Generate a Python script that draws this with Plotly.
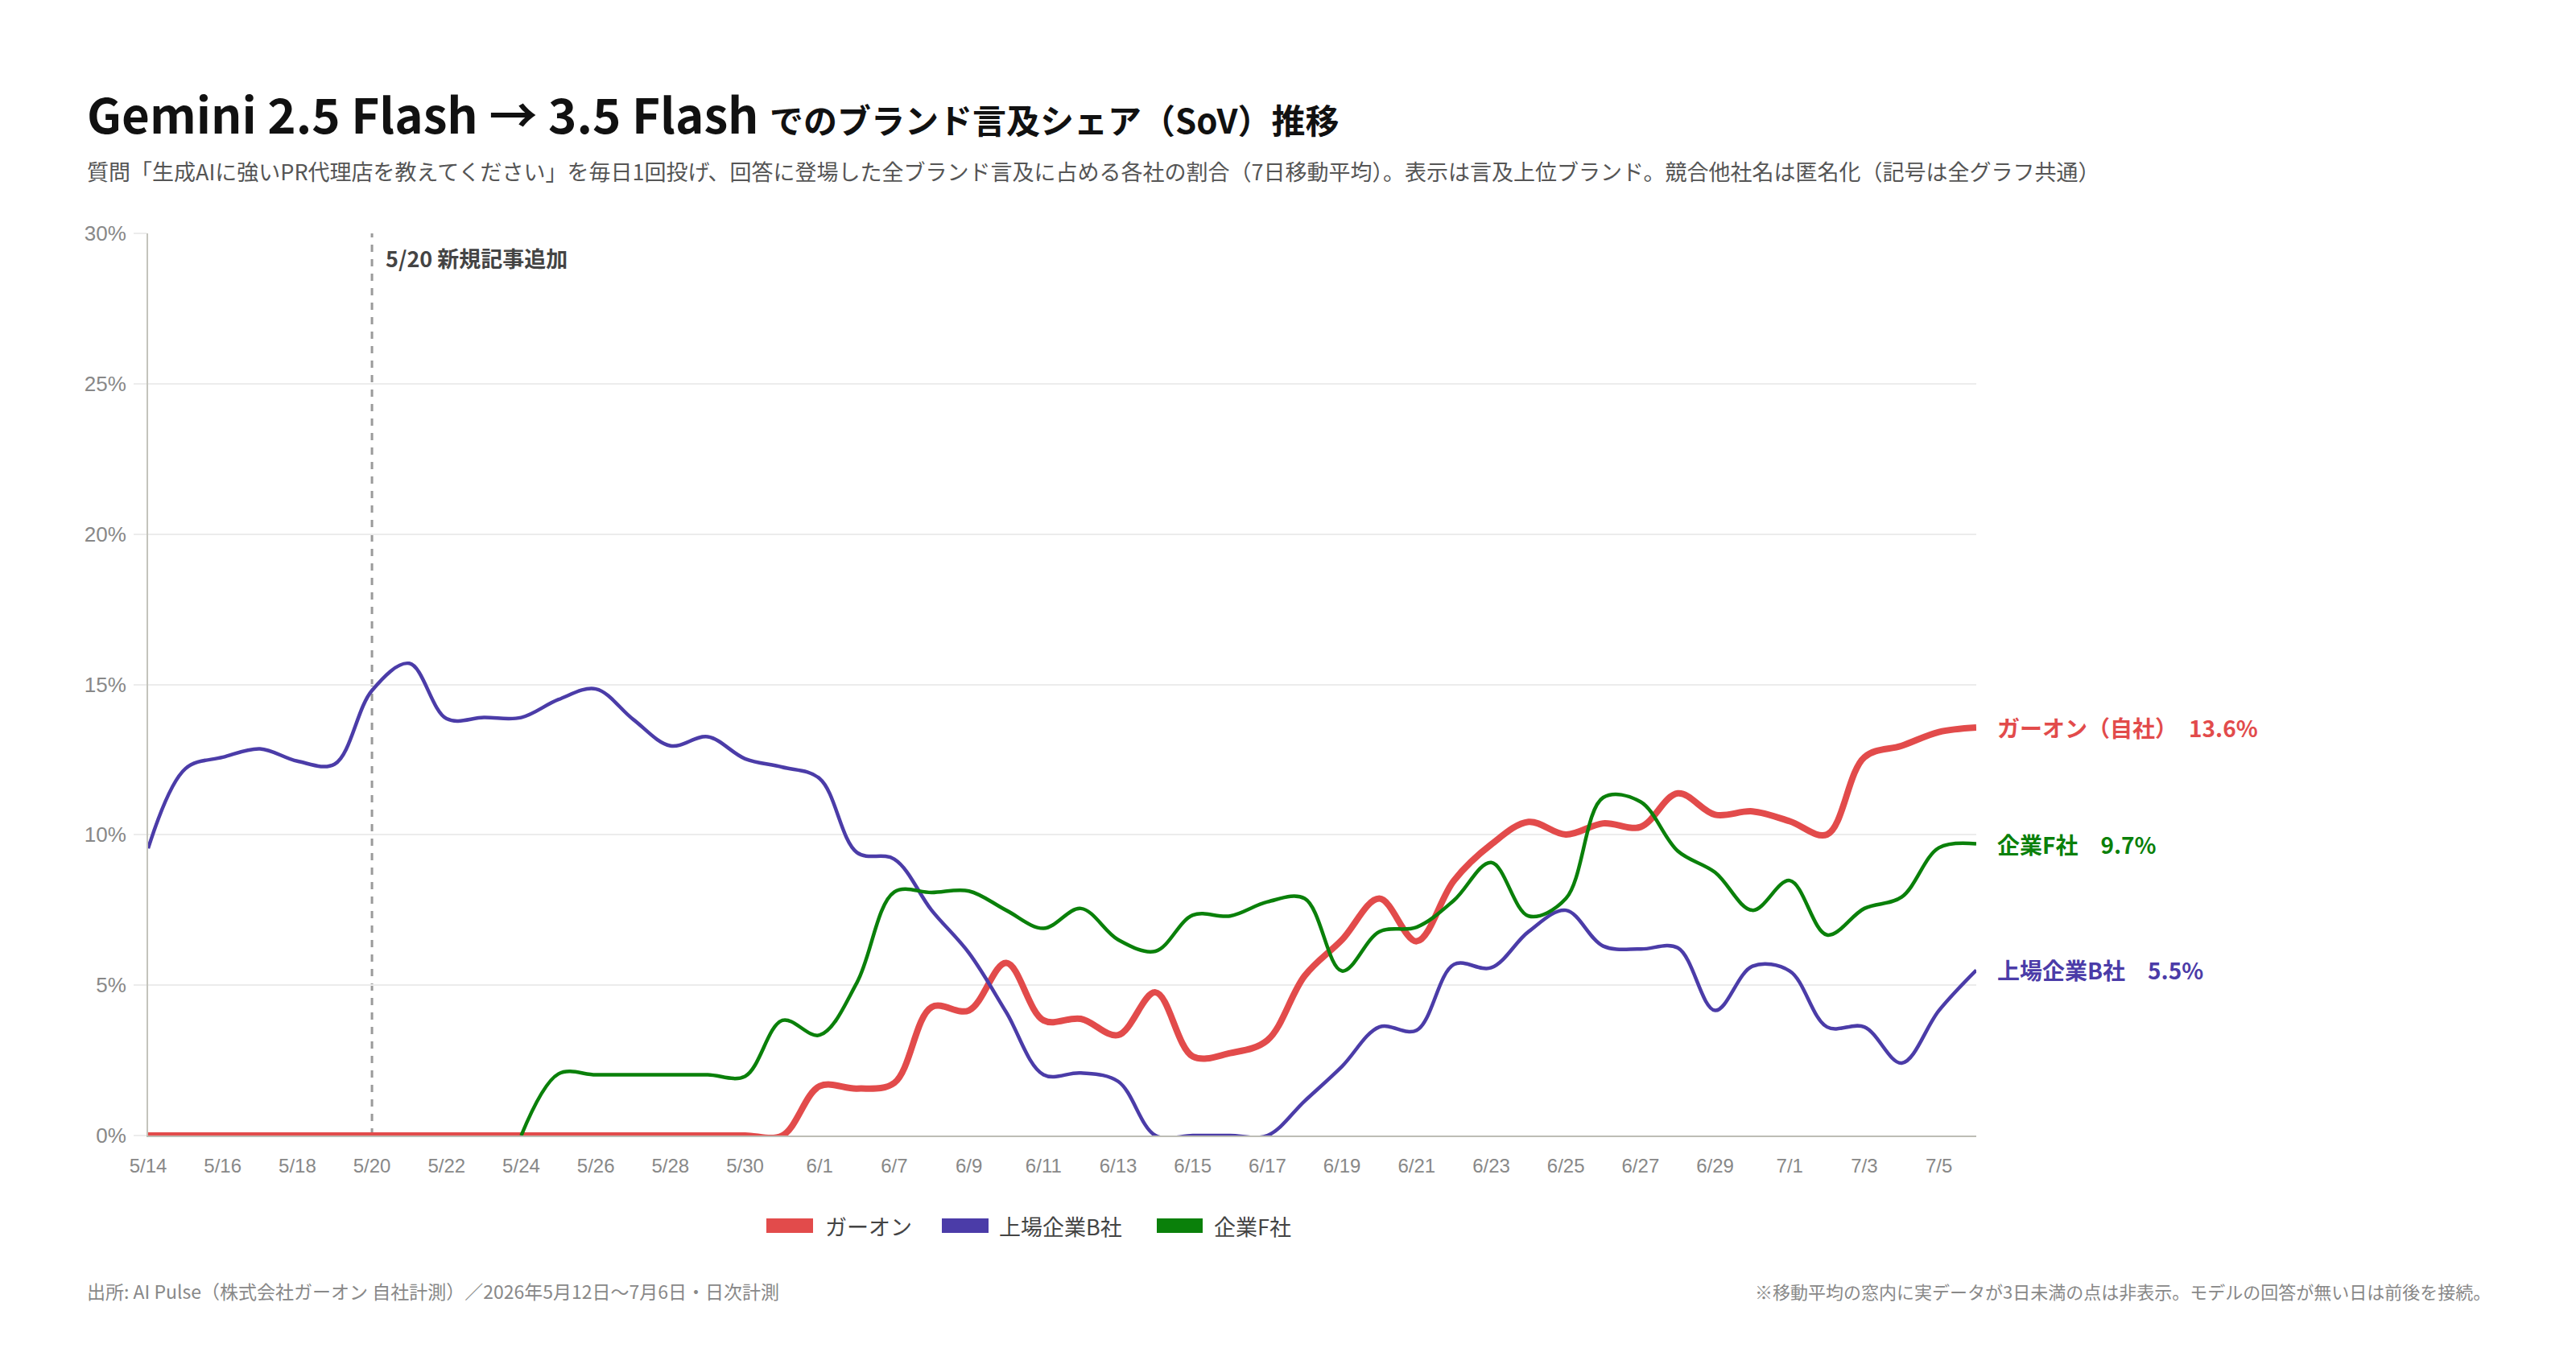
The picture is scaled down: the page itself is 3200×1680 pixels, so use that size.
import plotly.graph_objects as go

W, H = 3200, 1680
L, R, T, B = 184, 2455, 290, 1411  # plot area in pixels

dates = ["5/14", "5/15", "5/16", "5/17", "5/18", "5/19", "5/20", "5/21", "5/22", "5/23",
         "5/24", "5/25", "5/26", "5/27", "5/28", "5/29", "5/30", "5/31", "6/1", "6/2",
         "6/7", "6/8", "6/9", "6/10", "6/11", "6/12", "6/13", "6/14", "6/15", "6/16",
         "6/17", "6/18", "6/19", "6/20", "6/21", "6/22", "6/23", "6/24", "6/25", "6/26",
         "6/27", "6/28", "6/29", "6/30", "7/1", "7/2", "7/3", "7/4", "7/5", "7/6"]

garon = [0, 0, 0, 0, 0, 0, 0, 0, 0, 0,
         0, 0, 0, 0, 0, 0, 0, 0, 1.64, 1.56,
         1.75, 4.27, 4.16, 5.74, 3.83, 3.88, 3.34, 4.76, 2.63, 2.74,
         3.17, 5.31, 6.51, 7.88, 6.46, 8.48, 9.68, 10.43, 10.01, 10.38,
         10.26, 11.38, 10.67, 10.78, 10.45, 10.01, 12.58, 12.96, 13.42, 13.57]

company_b = [9.55, 12.2, 12.58, 12.86, 12.45, 12.35, 14.8, 15.7, 13.86, 13.9,
             13.9, 14.5, 14.85, 13.84, 12.96, 13.26, 12.53, 12.25, 11.87, 9.41,
             9.19, 7.49, 6.07, 4.1, 2.02, 2.08, 1.8, 0, 0, 0,
             0, 1.15, 2.3, 3.61, 3.5, 5.69, 5.58, 6.78, 7.49, 6.3,
             6.2, 6.24, 4.16, 5.63, 5.47, 3.61, 3.61, 2.41, 4.16, 5.5]

company_f = [None, None, None, None, None, None, None, None, None, None,
             0, 2.05, 2.02, 2.02, 2.02, 2.02, 1.97, 3.83, 3.34, 5.09,
             8.1, 8.08, 8.13, 7.49, 6.89, 7.55, 6.51, 6.13, 7.33, 7.3,
             7.77, 7.88, 5.47, 6.78, 6.93, 7.82, 9.08, 7.3, 7.88, 11.24,
             11.1, 9.46, 8.75, 7.49, 8.48, 6.67, 7.55, 7.93, 9.57, 9.7]

series_names = ["ガーオン", "上場企業B社", "企業F社"]
end_names = ["ガーオン（自社）", "上場企業B社", "企業F社"]
end_gaps = ["\u3000", "\u2002\u2002", "\u2002\u2002"]
colors = ["#E24B4B", "#4B3CA8", "#0A800A"]
widths = [8, 4.5, 4.5]
series = [garon, company_b, company_f]

y_ticks = [0, 5, 10, 15, 20, 25, 30]
y_text = [f"{v}%" for v in y_ticks]
event_date = "5/20"
event_label = "5/20 新規記事追加"

title_main = "Gemini 2.5 Flash → 3.5 Flash"
title_sub = "でのブランド言及シェア（SoV）推移"
subtitle = "質問「生成AIに強いPR代理店を教えてください」を毎日1回投げ、回答に登場した全ブランド言及に占める各社の割合（7日移動平均）。表示は言及上位ブランド。競合他社名は匿名化（記号は全グラフ共通）"
source = "出所: AI Pulse（株式会社ガーオン 自社計測）／2026年5月12日〜7月6日・日次計測"
note = "※移動平均の窓内に実データが3日未満の点は非表示。モデルの回答が無い日は前後を接続。"

JP = "Noto Sans CJK JP"
NUM = "Liberation Sans, Arial, sans-serif"


def px(x):
    return (x - L) / (R - L)


def py(y):
    return (B - y) / (B - T)


fig = go.Figure()
for name, vals, c, w in zip(series_names, series, colors, widths):
    fig.add_trace(go.Scatter(
        x=dates, y=vals, mode="lines", name=name,
        line=dict(color=c, width=w, shape="spline", smoothing=1.0),
        connectgaps=False, showlegend=False, hoverinfo="skip"))

annotations = []
# title
annotations.append(dict(
    xref="paper", yref="paper", x=px(106), y=py(139), xanchor="left", yanchor="middle",
    showarrow=False,
    text=f"<b>{title_main}</b> <span style='font-size:42px'><b>{title_sub}</b></span>",
    font=dict(family=JP, size=60, color="#111111")))
annotations.append(dict(
    xref="paper", yref="paper", x=px(106), y=py(212), xanchor="left", yanchor="middle",
    showarrow=False, text=subtitle, font=dict(family=JP, size=27, color="#555555")))
# event label
annotations.append(dict(
    xref="paper", yref="paper", x=px(477), y=py(320), xanchor="left", yanchor="middle",
    showarrow=False, text=f"<b>{event_label}</b>", font=dict(family=JP, size=27, color="#444444")))
# end labels
for nm, gap, vals, c in zip(end_names, end_gaps, series, colors):
    annotations.append(dict(
        xref="x", yref="y", x=len(dates) - 1, y=vals[-1], xanchor="left", yanchor="middle",
        xshift=24, showarrow=False,
        text=f"<b>{nm}{gap}{vals[-1]:.1f}%</b>", font=dict(family=JP, size=28, color=c)))
# footer
annotations.append(dict(
    xref="paper", yref="paper", x=px(106), y=py(1604), xanchor="left", yanchor="middle",
    showarrow=False, text=source, font=dict(family=JP, size=23, color="#888888")))
annotations.append(dict(
    xref="paper", yref="paper", x=px(3096), y=py(1604), xanchor="right", yanchor="middle",
    showarrow=False, text=note, font=dict(family=JP, size=22, color="#888888")))

shapes = []
# event line
ev = dates.index(event_date)
shapes.append(dict(type="line", xref="x", yref="y", x0=ev, x1=ev, y0=0, y1=30,
                   line=dict(color="#9a9a9a", width=3, dash="dash"), layer="below"))

# manual legend
legend_rects = [(952, 1010), (1170, 1228), (1437, 1494)]
legend_text_x = [1023, 1239, 1506]
for (x0, x1), tx, nm, c in zip(legend_rects, legend_text_x, series_names, colors):
    shapes.append(dict(type="rect", xref="paper", yref="paper",
                       x0=px(x0), x1=px(x1), y0=py(1532), y1=py(1514),
                       fillcolor=c, line=dict(width=0)))
    annotations.append(dict(
        xref="paper", yref="paper", x=px(tx), y=py(1523), xanchor="left", yanchor="middle",
        showarrow=False, text=nm, font=dict(family=JP, size=27, color="#444444")))

fig.update_layout(
    width=W, height=H,
    margin=dict(l=L, r=W - R, t=T, b=H - B, pad=0),
    paper_bgcolor="white", plot_bgcolor="white",
    showlegend=False,
    annotations=annotations, shapes=shapes,
    xaxis=dict(
        type="category", range=[0, len(dates) - 1],
        tickmode="array", tickvals=dates[::2], ticktext=dates[::2],
        showgrid=False, zeroline=False,
        showline=True, linecolor="#bdbdb5", linewidth=2,
        ticks="outside", ticklen=10, tickcolor="rgba(0,0,0,0)",
        tickfont=dict(family=NUM, size=24, color="#888888"),
        ticklabelstandoff=5,
    ),
    yaxis=dict(
        range=[0, 30], tickmode="array", tickvals=y_ticks, ticktext=y_text,
        showgrid=True, gridcolor="#ececec", gridwidth=2,
        zeroline=False,
        showline=True, linecolor="#c4c4bc", linewidth=2,
        ticks="outside", ticklen=16, tickcolor="#ececec", tickwidth=2,
        tickfont=dict(family=NUM, size=26, color="#888888"),
        ticklabelstandoff=4,
    ),
)

fig.write_html("out.html")
